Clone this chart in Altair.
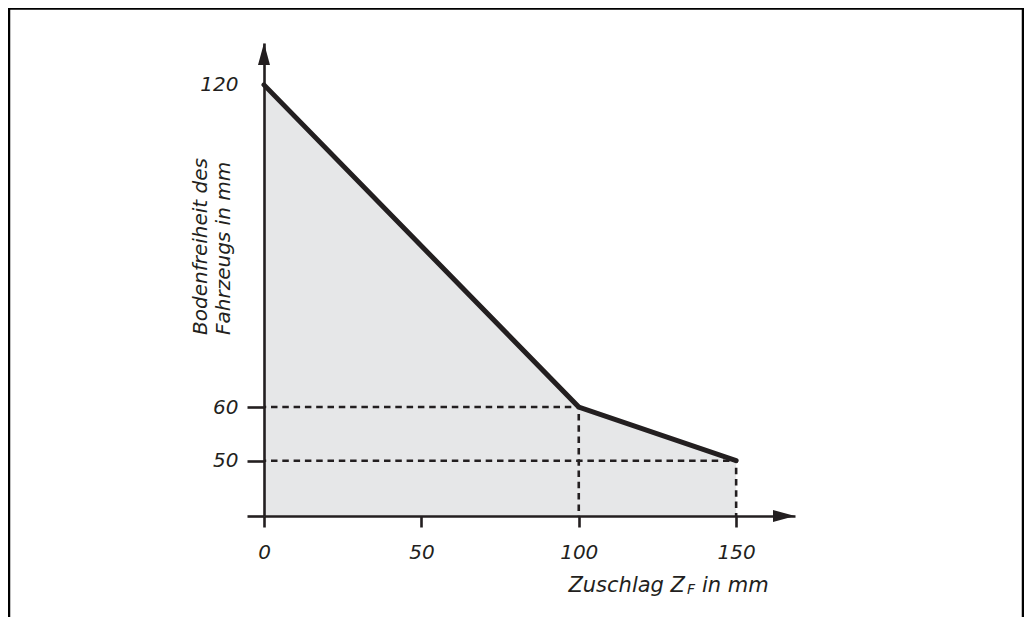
import altair as alt
import pandas as pd

# data
x_vals = [0, 100, 150]          # Zuschlag Z_F in mm
y_vals = [120, 60, 50]          # Bodenfreiheit des Fahrzeugs in mm
x_ticks = [0, 50, 100, 150]
y_ticks = [50, 60, 120]

# axis extents (in data units)
X_END = 168.7
Y_TOP = 127.8
Y_BOTTOM = 39.7

INK = "#231f20"
FILL = "#e6e7e8"
FONT = "DejaVu Sans"

W, H = 531, 473

curve = pd.DataFrame({"x": x_vals, "y": y_vals})

# dashed guide lines from the break points to the axes
seg_rows = []
for xv, yv in zip(x_vals[1:], y_vals[1:]):
    seg_rows.append({"x": 0, "x2": xv, "y": yv, "y2": yv})
    seg_rows.append({"x": xv, "x2": xv, "y": yv, "y2": Y_BOTTOM})
segs = pd.DataFrame(seg_rows)

xs = alt.Scale(domain=[0, X_END], nice=False, zero=False)
ys = alt.Scale(domain=[Y_BOTTOM, Y_TOP], nice=False, zero=False)

x_axis = alt.Axis(
    values=x_ticks, title=None, grid=False, zindex=1,
    domainColor=INK, domainWidth=2.6, tickColor=INK, tickWidth=2.6, tickSize=11,
    labelFont=FONT, labelFontStyle="italic", labelFontSize=20, labelColor=INK,
    labelPadding=15, labelFlush=False,
)
y_axis = alt.Axis(
    values=[Y_BOTTOM] + y_ticks, title=None, grid=False, zindex=1,
    domainColor=INK, domainWidth=2.6, tickColor=INK, tickWidth=2.6, tickSize=17,
    tickOpacity={"condition": {"test": "datum.value > 100", "value": 0}, "value": 1},
    labelExpr="datum.value < 45 ? '' : datum.label",
    labelFont=FONT, labelFontStyle="italic", labelFontSize=20, labelColor=INK,
    labelPadding=9, labelBaseline="middle", labelFlush=False,
)

base = alt.Chart(curve)

area = base.mark_area(color=FILL, opacity=1).encode(
    x=alt.X("x:Q", scale=xs, axis=x_axis),
    y=alt.Y("y:Q", scale=ys, axis=y_axis),
    y2=alt.datum(Y_BOTTOM),
)

dashes = alt.Chart(segs).mark_rule(
    color=INK, strokeWidth=2.6, strokeDash=[6.5, 4.8], strokeDashOffset=4.3
).encode(x="x:Q", x2="x2:Q", y="y:Q", y2="y2:Q")

line = base.mark_line(color=INK, strokeWidth=5, strokeCap="round", strokeJoin="miter").encode(
    x="x:Q", y="y:Q"
)

one = pd.DataFrame({"x": [0], "y": [Y_TOP], "xe": [X_END], "yb": [Y_BOTTOM]})
arrow_up = alt.Chart(one).mark_point(
    shape="M0,0L0.545,2L-0.545,2Z", filled=True, size=484, color=INK, opacity=1, strokeWidth=0
).encode(x="x:Q", y="y:Q")
arrow_right = alt.Chart(one).mark_point(
    shape="M0,0L-2,-0.545L-2,0.545Z", filled=True, size=484, color=INK, opacity=1, strokeWidth=0
).encode(x="xe:Q", y="yb:Q")

dummy = pd.DataFrame({"a": [0]})
frame = alt.Chart(dummy).mark_rect(fillOpacity=0, stroke="#000000", strokeWidth=2.5).encode(
    x=alt.value(-255), x2=alt.value(759), y=alt.value(-34.5), y2=alt.value(620)
)

ytitle = alt.Chart(dummy).mark_text(
    font=FONT, fontStyle="italic", fontSize=20, color=INK, angle=270,
    align="left", baseline="alphabetic", lineBreak="\n", lineHeight=23,
).encode(x=alt.value(-57), y=alt.value(292), text=alt.value("Bodenfreiheit des\nFahrzeugs in mm"))

xt1 = alt.Chart(dummy).mark_text(
    font=FONT, fontStyle="italic", fontSize=21, color=INK, align="right", baseline="alphabetic"
).encode(x=alt.value(421), y=alt.value(549), text=alt.value("Zuschlag Z"))
xt2 = alt.Chart(dummy).mark_text(
    font=FONT, fontStyle="italic", fontSize=14, color=INK, align="left", baseline="alphabetic"
).encode(x=alt.value(423), y=alt.value(551), text=alt.value("F"))
xt3 = alt.Chart(dummy).mark_text(
    font=FONT, fontStyle="italic", fontSize=21, color=INK, align="left", baseline="alphabetic"
).encode(x=alt.value(438), y=alt.value(549), text=alt.value("in mm"))

chart = alt.layer(
    area, dashes, line, arrow_up, arrow_right, frame, ytitle, xt1, xt2, xt3
).properties(
    width=W, height=H,
    autosize=alt.AutoSizeParams(type="none"),
    padding={"left": 256, "top": 35, "right": 229, "bottom": 101},
    background="white",
).configure_view(stroke="transparent")

chart.save("out.html", embed_options={"renderer": "svg", "actions": False})
